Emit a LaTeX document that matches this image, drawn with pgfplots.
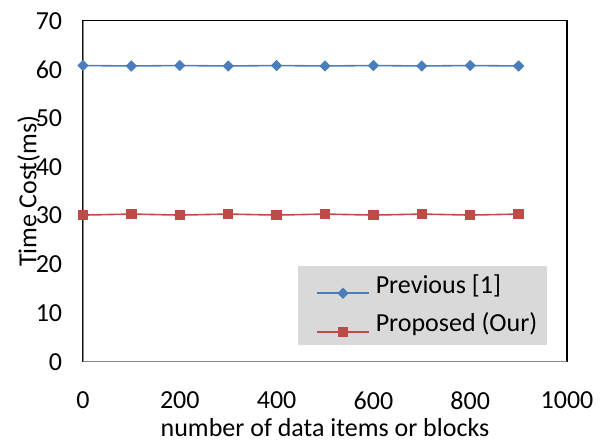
\documentclass[border=0pt]{standalone}
\usepackage{fontspec}
\setmainfont{Carlito}
\usepackage{pgfplots}
\pgfplotsset{compat=1.18}
\definecolor{serA}{HTML}{4A7EBB}
\definecolor{serB}{HTML}{BE4B48}
\definecolor{leggray}{HTML}{D9D9D9}
\definecolor{axgray}{HTML}{868686}
\begin{document}
\begin{tikzpicture}
\begin{axis}[name=ax, scale only axis, width=484pt, height=341pt,
  xmin=0, xmax=1000, ymin=0, ymax=70,
  xtick={0,200,...,1000}, ytick={0,10,...,70},
  major tick length=0pt,
  font=\fontsize{26}{31}\selectfont,
  /pgf/number format/assume math mode=true,
  /pgf/number format/1000 sep={},
  axis line style={black, line width=1.2pt},
  xticklabel style={yshift=-26.6pt},
  yticklabel style={xshift=-17.3pt},
  xlabel={number of data items or blocks},
  ylabel={Time Cost(ms)},
  xlabel style={at={(axis description cs:0.5,0)}, anchor=base, inner sep=0pt, yshift=-74.5pt},
  ylabel style={at={(axis description cs:-0.0961,0.5)}, anchor=base},
  legend cell align=left,
  legend style={draw=none, fill=leggray, at={(axis description cs:0.4442,0.2814)}, anchor=north west,
    inner xsep=10pt, inner ysep=8.5pt, row sep=15pt, column sep=6pt,
    nodes={inner sep=0pt, anchor=base west},
    font=\fontsize{26}{31}\selectfont},
  legend image code/.code={\path (0pt,-2pt) (8pt,2pt); \draw[mark repeat=2,mark phase=2,#1] plot coordinates {(8pt,0pt)(34pt,0pt)(60pt,0pt)};},
]
\addplot[serA, line width=1.6pt, mark=square*, mark size=3.2pt, mark options={rotate=45, solid}]
  coordinates {(0,60.8)(100,60.7)(200,60.8)(300,60.7)(400,60.8)(500,60.7)(600,60.8)(700,60.7)(800,60.8)(900,60.7)};
\addlegendentry{Previous [1]}
\addplot[serB, line width=1.6pt, mark=square*, mark size=4.4pt, mark options={solid}]
  coordinates {(0,30.1)(100,30.3)(200,30.1)(300,30.3)(400,30.1)(500,30.3)(600,30.1)(700,30.3)(800,30.1)(900,30.3)};
\addlegendentry{Proposed (Our)}
\draw[axgray, line width=1.6pt] (axis description cs:0,1) -- (axis description cs:0,0) -- (axis description cs:1,0);
\end{axis}
\path (ax.south west) ++(-83pt,-79.3pt) rectangle ++(605pt,441pt);
\end{tikzpicture}
\end{document}
